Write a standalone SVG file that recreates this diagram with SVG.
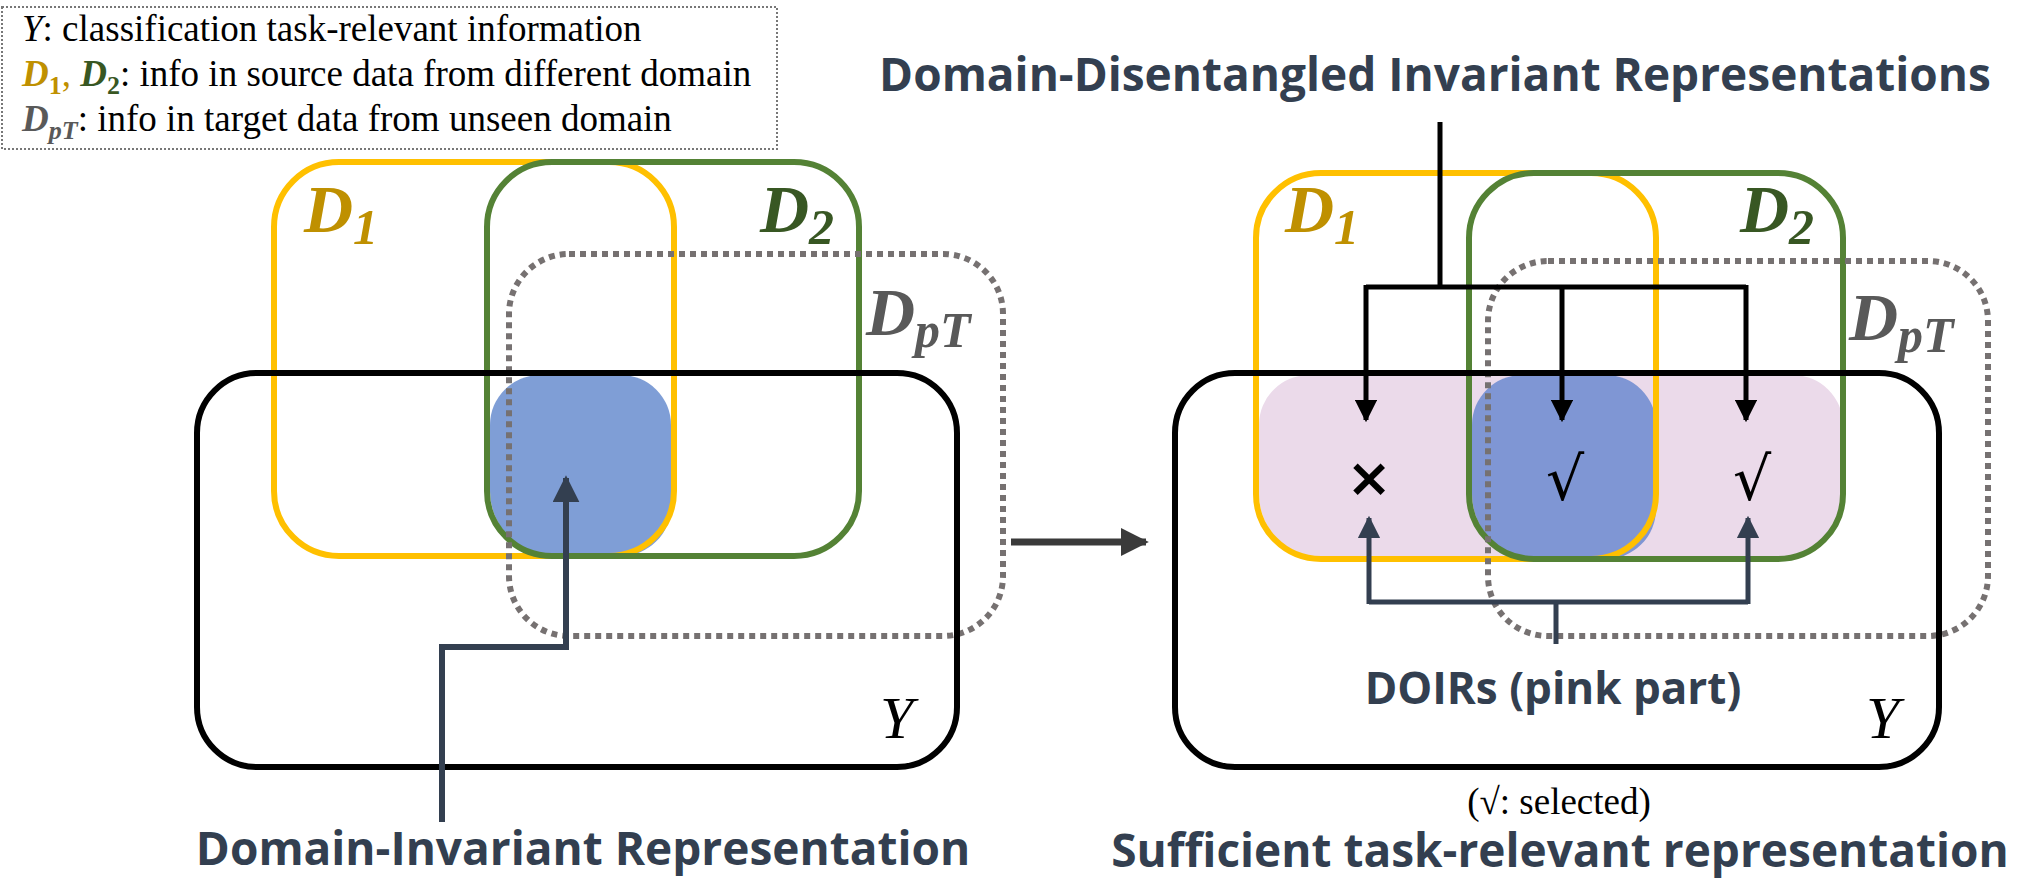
<svg xmlns="http://www.w3.org/2000/svg" width="2022" height="890" viewBox="0 0 2022 890">
<style>
.d1{fill:none;stroke:#FFC000;stroke-width:6}
.d2{fill:none;stroke:#548235;stroke-width:6}
.dp{fill:none;stroke:#767171;stroke-width:6;stroke-dasharray:6 5}
.y{fill:none;stroke:#000;stroke-width:6}
.lbl{font-family:"Liberation Serif",serif;font-weight:bold;font-style:italic;font-size:68px}
.sub{font-family:"Liberation Serif",serif;font-weight:bold;font-size:50px}
.sans{font-family:"Open Sans","Noto Sans",sans-serif;font-weight:bold;fill:#333F50}
.leg{font-family:"Liberation Serif",serif;font-size:37px;fill:#000}
.yl{font-family:"Liberation Serif",serif;font-style:italic;font-size:60px}
</style>
<defs>
<marker id="ab" viewBox="0 0 10 10" refX="9" refY="5" markerWidth="4.5" markerHeight="4.5" orient="auto"><path d="M0,0L10,5L0,10z" fill="#000"/></marker>
<marker id="as" viewBox="0 0 10 10" refX="9" refY="5" markerWidth="4.5" markerHeight="4.5" orient="auto"><path d="M0,0L10,5L0,10z" fill="#333F50"/></marker>
<marker id="ag" viewBox="0 0 10 10" refX="9" refY="5" markerWidth="4" markerHeight="4" orient="auto"><path d="M0,0L10,5L0,10z" fill="#3A3A3A"/></marker>
</defs>
<rect width="2022" height="890" fill="#fff"/>
<g id="legend">
<rect x="2" y="7" width="775" height="142" fill="none" stroke="#777" stroke-width="2" stroke-dasharray="2 2"/>
<text class="leg" x="22" y="41"><tspan font-style="italic">Y</tspan>: classification task-relevant information</text>
<text class="leg" x="22" y="86"><tspan font-style="italic" font-weight="bold" fill="#BF9000">D</tspan><tspan font-weight="bold" fill="#BF9000" font-size="26" dy="8">1</tspan><tspan fill="#BF9000" dy="-8">, </tspan><tspan font-style="italic" font-weight="bold" fill="#385723">D</tspan><tspan font-weight="bold" fill="#385723" font-size="26" dy="8">2</tspan><tspan dy="-8">: info in source data from different domain</tspan></text>
<text class="leg" x="22" y="131"><tspan font-style="italic" font-weight="bold" fill="#595959">D</tspan><tspan font-style="italic" font-weight="bold" fill="#595959" font-size="26" dy="8">pT</tspan><tspan dy="-8">: info in target data from unseen domain</tspan></text>
</g>
<g id="left">
<path id="blueL" d="M490,491V425a50,50 0 0 1 50,-50H621a50,50 0 0 1 50,50V506a50,50 0 0 1 -50,50H555a65,65 0 0 1 -65,-65z" fill="#7F9ED6"/>
<rect id="d1L" class="d1" x="274" y="162" width="400" height="394" rx="65"/>
<rect id="d2L" class="d2" x="487" y="162" width="372" height="394" rx="65"/>
<rect id="dpL" class="dp" x="509" y="254" width="494" height="382" rx="60"/>
<rect id="yL" class="y" x="197" y="373" width="760" height="394" rx="60"/>
<text class="lbl" x="304" y="232" fill="#BF9000">D<tspan class="sub" dy="12">1</tspan></text>
<text class="lbl" x="760" y="232" fill="#385723">D<tspan class="sub" dy="12">2</tspan></text>
<text class="lbl" x="866" y="335" fill="#595959">D<tspan class="sub" font-style="italic" dy="12">pT</tspan></text>
<text class="yl" x="880" y="738">Y</text>
</g>
<g id="right">
<path id="pink" d="M1259,494V425a50,50 0 0 1 50,-50H1793a50,50 0 0 1 50,50V494a65,65 0 0 1 -65,65H1324a65,65 0 0 1 -65,-65z" fill="#EBDAEA"/>
<path id="blueR" d="M1472,494V425a50,50 0 0 1 50,-50H1606a50,50 0 0 1 50,50V509a50,50 0 0 1 -50,50H1537a65,65 0 0 1 -65,-65z" fill="#7F96D4"/>
<rect id="d1R" class="d1" x="1256" y="173" width="400" height="386" rx="65"/>
<rect id="d2R" class="d2" x="1469" y="173" width="374" height="386" rx="65"/>
<rect id="dpR" class="dp" x="1488" y="261" width="500" height="375" rx="60"/>
<rect id="yR" class="y" x="1175" y="373" width="764" height="394" rx="60"/>
<text class="lbl" x="1285" y="232" fill="#BF9000">D<tspan class="sub" dy="12">1</tspan></text>
<text class="lbl" x="1740" y="232" fill="#385723">D<tspan class="sub" dy="12">2</tspan></text>
<text class="lbl" x="1849" y="340" fill="#595959">D<tspan class="sub" font-style="italic" dy="12">pT</tspan></text>
<text class="yl" x="1866" y="738">Y</text>
<text x="1369" y="496" font-family="'DejaVu Sans',sans-serif" font-weight="bold" font-size="54" text-anchor="middle">×</text>
<text x="1565" y="500" font-family="'DejaVu Sans',sans-serif" font-size="60" text-anchor="middle">√</text>
<text x="1752" y="500" font-family="'DejaVu Sans',sans-serif" font-size="60" text-anchor="middle">√</text>
</g>
<g id="connectors" fill="none">
<path d="M442,822V647H566V478" stroke="#333F50" stroke-width="6" marker-end="url(#as)"/>
<path d="M1011,542H1146" stroke="#3A3A3A" stroke-width="7" marker-end="url(#ag)"/>
<path d="M1440,122V287" stroke="#000" stroke-width="5"/>
<path d="M1366,287H1746" stroke="#000" stroke-width="5"/>
<path d="M1366,285V420" stroke="#000" stroke-width="5" marker-end="url(#ab)"/>
<path d="M1562,285V420" stroke="#000" stroke-width="5" marker-end="url(#ab)"/>
<path d="M1746,285V420" stroke="#000" stroke-width="5" marker-end="url(#ab)"/>
<path d="M1556,644V602" stroke="#333F50" stroke-width="5"/>
<path d="M1369,602H1748" stroke="#333F50" stroke-width="5"/>
<path d="M1369,604V518" stroke="#333F50" stroke-width="5" marker-end="url(#as)"/>
<path d="M1748,604V518" stroke="#333F50" stroke-width="5" marker-end="url(#as)"/>
</g>
<g id="titles">
<text class="sans" x="1435" y="91" font-size="46" text-anchor="middle">Domain-Disentangled Invariant Representations</text>
<text class="sans" x="583" y="865" font-size="46" text-anchor="middle">Domain-Invariant Representation</text>
<text class="sans" x="1553" y="704" font-size="44" text-anchor="middle">DOIRs (pink part)</text>
<text class="leg" x="1559" y="814" font-size="31" text-anchor="middle">(√: selected)</text>
<text class="sans" x="1560" y="867" font-size="46" text-anchor="middle">Sufficient task-relevant representation</text>
</g>
</svg>
